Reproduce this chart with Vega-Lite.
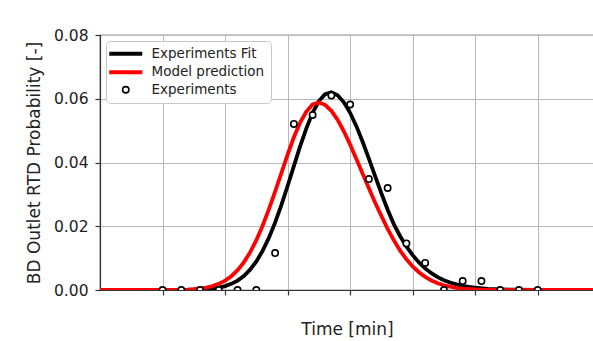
{
  "$schema": "https://vega.github.io/schema/vega-lite/v6.json",
  "width": 494,
  "height": 255,
  "autosize": {"type": "none"},
  "padding": {"left": 100, "top": 35, "right": 0, "bottom": 51},
  "config": {
    "font": "DejaVu Sans",
    "view": {"stroke": "#333333", "strokeWidth": 1.2},
    "axis": {
      "grid": true,
      "gridColor": "#b8b8b8",
      "gridWidth": 1,
      "domainColor": "#333333",
      "domainWidth": 1.2,
      "tickColor": "#333333",
      "tickWidth": 1.2,
      "tickSize": 5,
      "labelFont": "DejaVu Sans",
      "labelFontSize": 15.5,
      "labelColor": "#222222",
      "titleFont": "DejaVu Sans",
      "titleFontSize": 17,
      "titleFontWeight": "normal",
      "titleColor": "#222222"
    }
  },
  "datasets": {
    "curves": [
      {"series": "Experiments Fit", "t": 0, "v": 0},
      {"series": "Experiments Fit", "t": 1.0, "v": 0},
      {"series": "Experiments Fit", "t": 1.4, "v": 0.00003},
      {"series": "Experiments Fit", "t": 1.6, "v": 0.00015},
      {"series": "Experiments Fit", "t": 1.7, "v": 0.0003},
      {"series": "Experiments Fit", "t": 1.8, "v": 0.00046},
      {"series": "Experiments Fit", "t": 1.9, "v": 0.00076},
      {"series": "Experiments Fit", "t": 2.0, "v": 0.00123},
      {"series": "Experiments Fit", "t": 2.1, "v": 0.00194},
      {"series": "Experiments Fit", "t": 2.2, "v": 0.00296},
      {"series": "Experiments Fit", "t": 2.3, "v": 0.0044},
      {"series": "Experiments Fit", "t": 2.4, "v": 0.00637},
      {"series": "Experiments Fit", "t": 2.5, "v": 0.00897},
      {"series": "Experiments Fit", "t": 2.6, "v": 0.01227},
      {"series": "Experiments Fit", "t": 2.7, "v": 0.01634},
      {"series": "Experiments Fit", "t": 2.8, "v": 0.02114},
      {"series": "Experiments Fit", "t": 2.9, "v": 0.02663},
      {"series": "Experiments Fit", "t": 3.0, "v": 0.03262},
      {"series": "Experiments Fit", "t": 3.1, "v": 0.03887},
      {"series": "Experiments Fit", "t": 3.2, "v": 0.04503},
      {"series": "Experiments Fit", "t": 3.3, "v": 0.05073},
      {"series": "Experiments Fit", "t": 3.4, "v": 0.0556},
      {"series": "Experiments Fit", "t": 3.5, "v": 0.05927},
      {"series": "Experiments Fit", "t": 3.6, "v": 0.06145},
      {"series": "Experiments Fit", "t": 3.7, "v": 0.0620},
      {"series": "Experiments Fit", "t": 3.8, "v": 0.0611},
      {"series": "Experiments Fit", "t": 3.9, "v": 0.0589},
      {"series": "Experiments Fit", "t": 4.0, "v": 0.0556},
      {"series": "Experiments Fit", "t": 4.1, "v": 0.0514},
      {"series": "Experiments Fit", "t": 4.2, "v": 0.0465},
      {"series": "Experiments Fit", "t": 4.3, "v": 0.0412},
      {"series": "Experiments Fit", "t": 4.4, "v": 0.0357},
      {"series": "Experiments Fit", "t": 4.5, "v": 0.0303},
      {"series": "Experiments Fit", "t": 4.6, "v": 0.0252},
      {"series": "Experiments Fit", "t": 4.7, "v": 0.0206},
      {"series": "Experiments Fit", "t": 4.8, "v": 0.01688},
      {"series": "Experiments Fit", "t": 4.9, "v": 0.01366},
      {"series": "Experiments Fit", "t": 5.0, "v": 0.01093},
      {"series": "Experiments Fit", "t": 5.1, "v": 0.00866},
      {"series": "Experiments Fit", "t": 5.2, "v": 0.00678},
      {"series": "Experiments Fit", "t": 5.3, "v": 0.00526},
      {"series": "Experiments Fit", "t": 5.4, "v": 0.00405},
      {"series": "Experiments Fit", "t": 5.5, "v": 0.00309},
      {"series": "Experiments Fit", "t": 5.6, "v": 0.00233},
      {"series": "Experiments Fit", "t": 5.7, "v": 0.00175},
      {"series": "Experiments Fit", "t": 5.8, "v": 0.00131},
      {"series": "Experiments Fit", "t": 5.9, "v": 0.00097},
      {"series": "Experiments Fit", "t": 6.0, "v": 0.00071},
      {"series": "Experiments Fit", "t": 6.2, "v": 0.00038},
      {"series": "Experiments Fit", "t": 6.4, "v": 0.0002},
      {"series": "Experiments Fit", "t": 6.6, "v": 0.0001},
      {"series": "Experiments Fit", "t": 7.0, "v": 0.00003},
      {"series": "Experiments Fit", "t": 7.9, "v": 0},
      {"series": "Model prediction", "t": 0, "v": 0},
      {"series": "Model prediction", "t": 1.0, "v": 0.00001},
      {"series": "Model prediction", "t": 1.2, "v": 0.00004},
      {"series": "Model prediction", "t": 1.4, "v": 0.00014},
      {"series": "Model prediction", "t": 1.5, "v": 0.00028},
      {"series": "Model prediction", "t": 1.6, "v": 0.00047},
      {"series": "Model prediction", "t": 1.7, "v": 0.00077},
      {"series": "Model prediction", "t": 1.8, "v": 0.00124},
      {"series": "Model prediction", "t": 1.9, "v": 0.00193},
      {"series": "Model prediction", "t": 2.0, "v": 0.00293},
      {"series": "Model prediction", "t": 2.1, "v": 0.00432},
      {"series": "Model prediction", "t": 2.2, "v": 0.0062},
      {"series": "Model prediction", "t": 2.3, "v": 0.00867},
      {"series": "Model prediction", "t": 2.4, "v": 0.0118},
      {"series": "Model prediction", "t": 2.5, "v": 0.01564},
      {"series": "Model prediction", "t": 2.6, "v": 0.02016},
      {"series": "Model prediction", "t": 2.7, "v": 0.0253},
      {"series": "Model prediction", "t": 2.8, "v": 0.0309},
      {"series": "Model prediction", "t": 2.9, "v": 0.0367},
      {"series": "Model prediction", "t": 3.0, "v": 0.0425},
      {"series": "Model prediction", "t": 3.1, "v": 0.0479},
      {"series": "Model prediction", "t": 3.2, "v": 0.0525},
      {"series": "Model prediction", "t": 3.3, "v": 0.0560},
      {"series": "Model prediction", "t": 3.4, "v": 0.0582},
      {"series": "Model prediction", "t": 3.5, "v": 0.0588},
      {"series": "Model prediction", "t": 3.6, "v": 0.0581},
      {"series": "Model prediction", "t": 3.7, "v": 0.0562},
      {"series": "Model prediction", "t": 3.8, "v": 0.0534},
      {"series": "Model prediction", "t": 3.9, "v": 0.0498},
      {"series": "Model prediction", "t": 4.0, "v": 0.0456},
      {"series": "Model prediction", "t": 4.1, "v": 0.0411},
      {"series": "Model prediction", "t": 4.2, "v": 0.0365},
      {"series": "Model prediction", "t": 4.3, "v": 0.0319},
      {"series": "Model prediction", "t": 4.4, "v": 0.0274},
      {"series": "Model prediction", "t": 4.5, "v": 0.0232},
      {"series": "Model prediction", "t": 4.6, "v": 0.0192},
      {"series": "Model prediction", "t": 4.7, "v": 0.01556},
      {"series": "Model prediction", "t": 4.8, "v": 0.01237},
      {"series": "Model prediction", "t": 4.9, "v": 0.00965},
      {"series": "Model prediction", "t": 5.0, "v": 0.00737},
      {"series": "Model prediction", "t": 5.1, "v": 0.00557},
      {"series": "Model prediction", "t": 5.2, "v": 0.00411},
      {"series": "Model prediction", "t": 5.3, "v": 0.00299},
      {"series": "Model prediction", "t": 5.4, "v": 0.00213},
      {"series": "Model prediction", "t": 5.5, "v": 0.00149},
      {"series": "Model prediction", "t": 5.6, "v": 0.00103},
      {"series": "Model prediction", "t": 5.7, "v": 0.00069},
      {"series": "Model prediction", "t": 5.8, "v": 0.00046},
      {"series": "Model prediction", "t": 6.0, "v": 0.00019},
      {"series": "Model prediction", "t": 6.2, "v": 0.00007},
      {"series": "Model prediction", "t": 6.5, "v": 0.00001},
      {"series": "Model prediction", "t": 7.9, "v": 0}
    ],
    "points": [
      {"series": "Experiments", "t": 1.0, "v": 0},
      {"series": "Experiments", "t": 1.3, "v": 0},
      {"series": "Experiments", "t": 1.6, "v": 0},
      {"series": "Experiments", "t": 1.9, "v": 0},
      {"series": "Experiments", "t": 2.2, "v": 0},
      {"series": "Experiments", "t": 2.5, "v": 0},
      {"series": "Experiments", "t": 2.8, "v": 0.0116},
      {"series": "Experiments", "t": 3.1, "v": 0.0521},
      {"series": "Experiments", "t": 3.4, "v": 0.0549},
      {"series": "Experiments", "t": 3.7, "v": 0.0610},
      {"series": "Experiments", "t": 4.0, "v": 0.0582},
      {"series": "Experiments", "t": 4.3, "v": 0.0348},
      {"series": "Experiments", "t": 4.6, "v": 0.0320},
      {"series": "Experiments", "t": 4.9, "v": 0.0146},
      {"series": "Experiments", "t": 5.2, "v": 0.0085},
      {"series": "Experiments", "t": 5.5, "v": 0},
      {"series": "Experiments", "t": 5.8, "v": 0.0028},
      {"series": "Experiments", "t": 6.1, "v": 0.0028},
      {"series": "Experiments", "t": 6.4, "v": 0},
      {"series": "Experiments", "t": 6.7, "v": 0},
      {"series": "Experiments", "t": 7.0, "v": 0}
    ]
  },
  "encoding": {
    "x": {
      "field": "t",
      "type": "quantitative",
      "scale": {"domain": [0, 7.9], "nice": false, "zero": false},
      "axis": {"title": "Time [min]", "labels": false, "values": [1, 2, 3, 4, 5, 6, 7], "titlePadding": 26}
    },
    "y": {
      "field": "v",
      "type": "quantitative",
      "scale": {"domain": [0, 0.08], "nice": false},
      "axis": {"title": "BD Outlet RTD Probability [-]", "values": [0, 0.02, 0.04, 0.06, 0.08], "format": ".2f", "labelPadding": 7, "titlePadding": 10}
    },
    "color": {
      "field": "series",
      "type": "nominal",
      "scale": {"domain": ["Experiments Fit", "Model prediction", "Experiments"], "range": ["#000000", "#ff0000", "#000000"]},
      "legend": {
        "title": null,
        "orient": "none",
        "legendX": 6,
        "legendY": 6,
        "labelFont": "DejaVu Sans",
        "labelFontSize": 13.5,
        "labelColor": "#222222",
        "strokeColor": "#c8c8c8",
        "fillColor": "#ffffff",
        "cornerRadius": 4,
        "padding": 6,
        "rowPadding": 1.5,
        "symbolSize": 1089,
        "symbolStrokeWidth": 4,
        "symbolOffset": 7,
        "labelOffset": 19,
        "encode": {
          "symbols": {
            "update": {
              "shape": {"signal": "datum.value === 'Experiments' ? 'circle' : 'stroke'"},
              "size": {"signal": "datum.value === 'Experiments' ? 40 : 1089"},
              "strokeWidth": {"signal": "datum.value === 'Experiments' ? 1.6 : 4"},
              "fill": {"value": "#ffffff"}
            }
          }
        }
      }
    }
  },
  "layer": [
    {
      "data": {"name": "curves"},
      "mark": {"type": "line", "strokeWidth": 3.8, "clip": true}
    },
    {
      "data": {"name": "points"},
      "mark": {"type": "point", "shape": "circle", "filled": false, "fill": "white", "fillOpacity": 1, "size": 40, "strokeWidth": 1.6, "opacity": 1, "clip": true}
    }
  ]
}
